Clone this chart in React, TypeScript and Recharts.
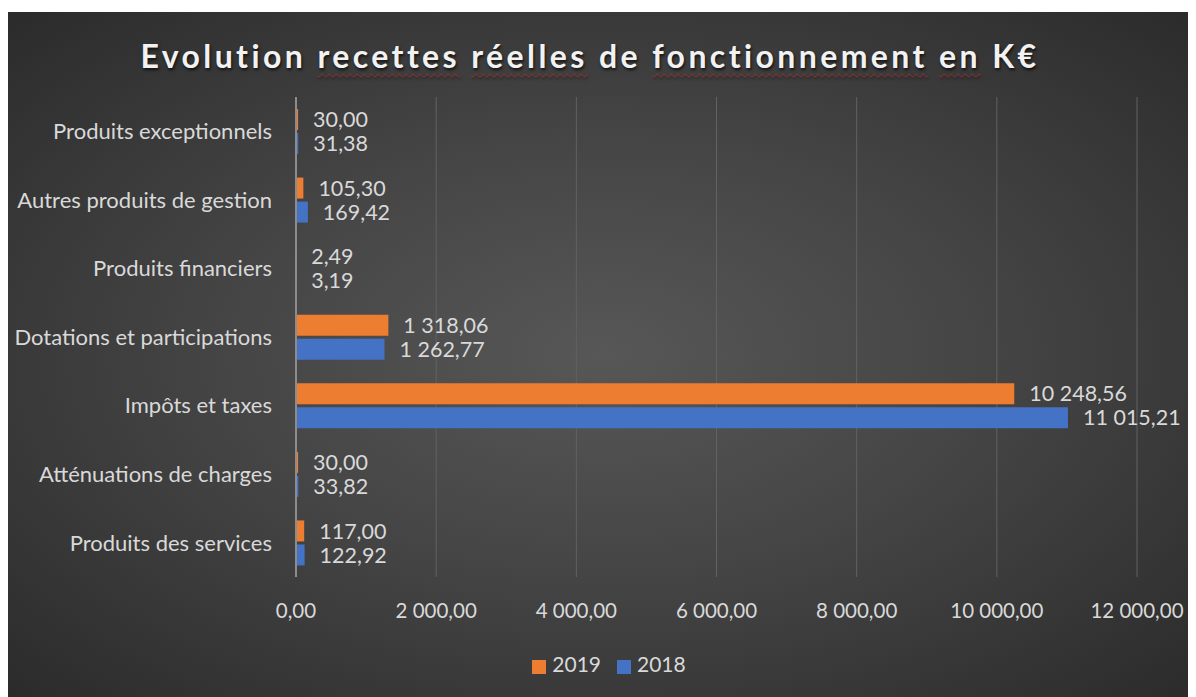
import React from "react";
import { BarChart, Bar, XAxis, YAxis, CartesianGrid, Legend, LabelList } from "recharts";

const categories = [
  "Produits exceptionnels",
  "Autres produits de gestion",
  "Produits financiers",
  "Dotations et participations",
  "Impôts et taxes",
  "Atténuations de charges",
  "Produits des services",
];
const values2019 = [30.0, 105.3, 2.49, 1318.06, 10248.56, 30.0, 117.0];
const values2018 = [31.38, 169.42, 3.19, 1262.77, 11015.21, 33.82, 122.92];
const xTicks = [0, 2000, 4000, 6000, 8000, 10000, 12000];

const ORANGE = "#ED7D31";
const BLUE = "#4472C4";
const TEXT = "#d9d9d9";
const FONT = "Lato, 'Open Sans', sans-serif";

// format "1 318,06" like the French Excel output
function frNumber(v: number): string {
  const [intPart, dec] = Number(v).toFixed(2).split(".");
  const grouped = intPart.replace(/\B(?=(\d{3})+(?!\d))/g, " ");
  return `${grouped},${dec}`;
}

const data = categories.map((name, i) => ({
  name,
  y2019: values2019[i],
  y2018: values2018[i],
}));

const squiggle = {
  textDecoration: "underline wavy rgba(190,40,40,0.7)",
  textDecorationThickness: "1px",
  textUnderlineOffset: "5px",
} as React.CSSProperties;

export default function App() {
  return (
    <div
      style={{
        position: "relative",
        marginTop: 4,
        width: 1188,
        height: 685,
        background:
          "radial-gradient(ellipse at 50% 50%, #575757 0%, #454545 45%, #2b2b2b 100%)",
        fontFamily: FONT,
      }}
    >
      <div
        style={{
          position: "absolute",
          top: 24,
          left: 0,
          width: 1164,
          textAlign: "center",
          color: "#f2f2f2",
          fontSize: 32,
          fontWeight: 700,
          letterSpacing: 3.4,
          textShadow: "1px 2px 3px rgba(0,0,0,0.7)",
        }}
      >
        Evolution <span style={squiggle}>recettes</span> <span style={squiggle}>réelles</span> de{" "}
        <span style={squiggle}>fonctionnement</span> <span style={squiggle}>en</span> K€
      </div>
      <BarChart
        width={1188}
        height={685}
        data={data}
        layout="vertical"
        margin={{ top: 85, right: 59, bottom: 65, left: 0 }}
        barSize={21}
        barGap={3}
        style={{ position: "absolute", top: 0, left: 0 }}
      >
        <CartesianGrid horizontal={false} stroke="#626262" strokeWidth={1} />
        <XAxis
          type="number"
          domain={[0, 12000]}
          ticks={xTicks}
          tickFormatter={frNumber}
          axisLine={false}
          tickLine={false}
          tickMargin={20}
          tick={{ fill: TEXT, fontSize: 20.5, fontFamily: FONT }}
        />
        <YAxis
          type="category"
          dataKey="name"
          width={288}
          axisLine={{ stroke: "#8c8c8c", strokeWidth: 2 }}
          tickLine={false}
          tickMargin={18}
          tick={{ fill: TEXT, fontSize: 22, fontFamily: FONT }}
        />
        <Legend
          verticalAlign="bottom"
          align="center"
          iconType="square"
          iconSize={14}
          itemSorter={(item: any) => -Number(item.value)}
          wrapperStyle={{ fontSize: 21, fontFamily: FONT, color: TEXT, bottom: 21, left: 15, width: 1188 }}
          formatter={(value) => (
            <span style={{ color: TEXT, marginLeft: 2, marginRight: 6 }}>{value}</span>
          )}
        />
        <Bar dataKey="y2019" name="2019" fill={ORANGE} isAnimationActive={false}>
          <LabelList
            dataKey="y2019"
            position="right"
            offset={15}
            formatter={(v: any) => frNumber(v)}
            style={{ fill: TEXT, fontSize: 21.5, fontFamily: FONT }}
          />
        </Bar>
        <Bar dataKey="y2018" name="2018" fill={BLUE} isAnimationActive={false}>
          <LabelList
            dataKey="y2018"
            position="right"
            offset={15}
            formatter={(v: any) => frNumber(v)}
            style={{ fill: TEXT, fontSize: 21.5, fontFamily: FONT }}
          />
        </Bar>
      </BarChart>
    </div>
  );
}
